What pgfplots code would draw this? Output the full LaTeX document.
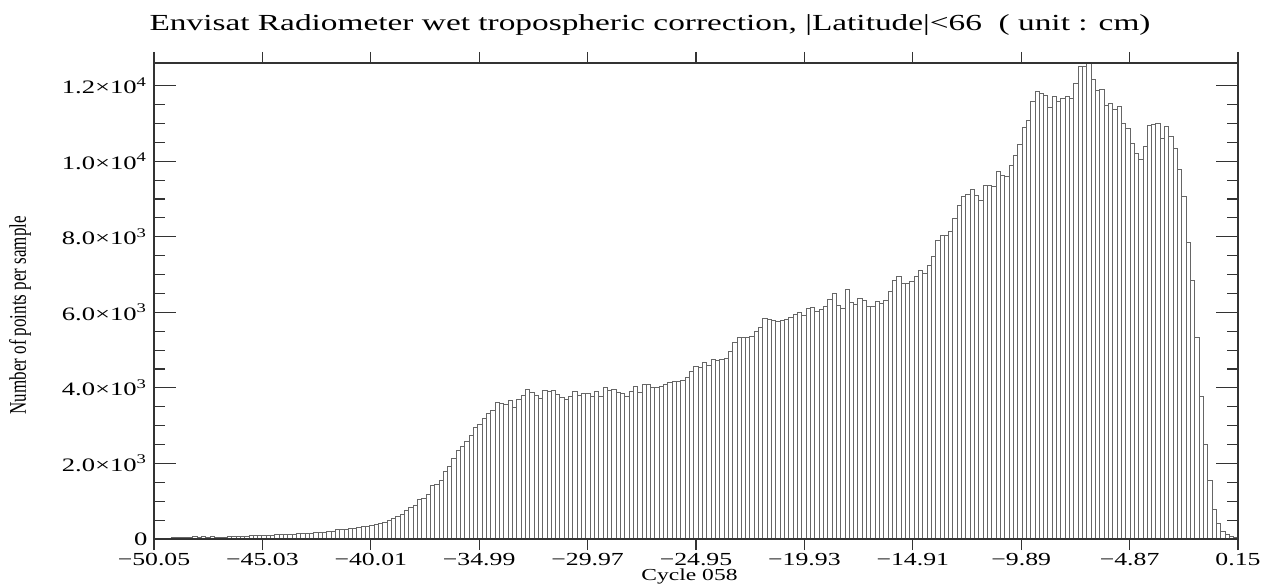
\documentclass[border=0pt]{standalone}
\usepackage{fontspec}
\setmainfont{Liberation Serif}
\usepackage{pgfplots}
\pgfplotsset{compat=1.18}
\usepackage{graphicx}
\begin{document}
\begin{tikzpicture}
\path[use as bounding box] (-77pt,-22pt) rectangle (553.5pt,269.5pt);
\begin{axis}[
  scale only axis, width=542pt, height=238pt,
  xmin=-50.05, xmax=0.15, ymin=0, ymax=12600,
  scaled ticks=false,
  axis line style={draw=black!80, line width=0.6pt},
  tick style={draw=black!80, line width=0.6pt},
  xtick={-50.05,-45.03,-40.01,-34.99,-29.97,-24.95,-19.93,-14.91,-9.89,-4.87,0.15},
  xticklabels={−50.05,−45.03,−40.01,−34.99,−29.97,−24.95,−19.93,−14.91,−9.89,−4.87,0.15},
  x tick style={draw=none},
  xticklabel style={font=\fontsize{9.2}{11}\selectfont, anchor=base, yshift=-13pt, xscale=1.4},
  ytick={0,2000,4000,6000,8000,10000,12000},
  yticklabels={0,2.0×10\textsuperscript{3},4.0×10\textsuperscript{3},6.0×10\textsuperscript{3},8.0×10\textsuperscript{3},1.0×10\textsuperscript{4},1.2×10\textsuperscript{4}},
  minor y tick num=3,
  tick align=inside,
  major tick length=11pt, minor tick length=5.5pt,
  yticklabel style={font=\fontsize{9.5}{11}\selectfont, anchor=east, inner sep=0pt, xshift=-3pt, xscale=1.4},
  title={Envisat Radiometer wet tropospheric correction, |Latitude|<66\ \ ( unit : cm)},
  title style={font=\fontsize{11.5}{14}\selectfont, at={(axis description cs:0.4576,1)}, anchor=base, yshift=10pt, xscale=1.45},
  xlabel={Cycle 058},
  xlabel style={font=\fontsize{8.4}{10}\selectfont, at={(axis description cs:0.494,0)}, anchor=base, yshift=-20.5pt, xscale=1.4},
  ylabel={\scalebox{1}[1.4]{Number of points per sample}},
  ylabel style={font=\fontsize{8.5}{10}\selectfont, at={(axis description cs:-0.1236,0.47)}, anchor=center, rotate=0},
]
\addplot[ybar interval, fill=white, draw=black!60, line width=0.5pt] table[x index=0, y index=1] {
x y
-50.05 20
-49.85 25
-49.65 22
-49.45 25
-49.25 30
-49.05 30
-48.85 35
-48.65 30
-48.45 35
-48.25 55
-48.05 50
-47.85 55
-47.65 45
-47.45 55
-47.25 45
-47.05 40
-46.85 50
-46.65 65
-46.45 75
-46.25 70
-46.05 65
-45.85 75
-45.65 80
-45.45 85
-45.25 90
-45.05 100
-44.85 95
-44.65 90
-44.45 110
-44.25 130
-44.05 120
-43.85 115
-43.65 130
-43.45 140
-43.25 150
-43.05 155
-42.85 150
-42.65 160
-42.45 175
-42.25 180
-42.05 200
-41.85 210
-41.65 240
-41.45 260
-41.25 250
-41.05 290
-40.85 280
-40.65 310
-40.45 320
-40.25 330
-40.05 350
-39.85 380
-39.65 410
-39.45 440
-39.25 480
-39.05 530
-38.85 600
-38.65 660
-38.45 755
-38.25 845
-38.05 895
-37.85 1055
-37.65 1080
-37.45 1190
-37.25 1410
-37.05 1430
-36.85 1540
-36.65 1790
-36.45 1910
-36.25 2140
-36.05 2340
-35.85 2450
-35.65 2580
-35.45 2730
-35.25 2940
-35.05 3030
-34.85 3200
-34.65 3310
-34.45 3410
-34.25 3620
-34.05 3590
-33.85 3550
-33.65 3660
-33.45 3480
-33.25 3700
-33.05 3790
-32.85 3970
-32.65 3880
-32.45 3810
-32.25 3720
-32.05 3920
-31.85 3910
-31.65 3940
-31.45 3820
-31.25 3750
-31.05 3680
-30.85 3780
-30.65 3910
-30.45 3810
-30.25 3840
-30.05 3860
-29.85 3780
-29.65 3900
-29.45 3780
-29.25 4010
-29.05 3920
-28.85 3970
-28.65 3880
-28.45 3840
-28.25 3780
-28.05 3910
-27.85 4040
-27.65 3880
-27.45 4080
-27.25 4080
-27.05 4020
-26.85 4000
-26.65 4040
-26.45 4090
-26.25 4130
-26.05 4180
-25.85 4170
-25.65 4200
-25.45 4270
-25.25 4440
-25.05 4570
-24.85 4550
-24.65 4670
-24.45 4590
-24.25 4750
-24.05 4730
-23.85 4750
-23.65 4770
-23.45 4970
-23.25 5190
-23.05 5340
-22.85 5330
-22.65 5330
-22.45 5360
-22.25 5500
-22.05 5590
-21.85 5830
-21.65 5810
-21.45 5790
-21.25 5760
-21.05 5790
-20.85 5810
-20.65 5860
-20.45 5950
-20.25 5990
-20.05 5910
-19.85 6100
-19.65 6120
-19.45 6010
-19.25 6070
-19.05 6165
-18.85 6340
-18.65 6490
-18.45 6170
-18.25 6100
-18.05 6610
-17.85 6260
-17.65 6210
-17.45 6360
-17.25 6320
-17.05 6150
-16.85 6150
-16.65 6280
-16.45 6240
-16.25 6310
-16.05 6540
-15.85 6850
-15.65 6960
-15.45 6770
-15.25 6770
-15.05 6810
-14.85 6960
-14.65 7100
-14.45 7030
-14.25 7230
-14.05 7470
-13.85 7910
-13.65 8030
-13.45 8030
-13.25 8130
-13.05 8490
-12.85 8820
-12.65 9060
-12.45 9120
-12.25 9260
-12.05 9080
-11.85 8950
-11.65 9370
-11.45 9350
-11.25 9320
-11.05 9720
-10.85 9610
-10.65 9590
-10.45 9880
-10.25 10160
-10.05 10430
-9.85 10880
-9.65 11090
-9.45 11570
-9.25 11840
-9.05 11790
-8.85 11730
-8.65 11420
-8.45 11700
-8.25 11590
-8.05 11660
-7.85 11720
-7.65 11660
-7.45 12060
-7.25 12520
-7.05 12500
-6.85 12590
-6.65 12150
-6.45 11880
-6.25 11910
-6.05 11480
-5.85 11530
-5.65 11380
-5.45 11440
-5.25 11000
-5.05 10870
-4.85 10470
-4.65 10200
-4.45 10050
-4.25 10400
-4.05 10940
-3.85 10960
-3.65 11000
-3.45 10600
-3.25 10930
-3.05 10650
-2.85 10340
-2.65 9790
-2.45 9060
-2.25 7840
-2.05 6850
-1.85 5340
-1.65 3780
-1.45 2490
-1.25 1540
-1.05 770
-0.85 400
-0.65 190
-0.45 110
-0.25 60
-0.05 35
0.15 0
};
\end{axis}
\begin{axis}[
  scale only axis, width=542pt, height=238pt,
  xmin=-50.05, xmax=0.15, ymin=0, ymax=12600,
  scaled ticks=false,
  axis line style={draw=black!80, line width=0.6pt},
  tick style={draw=black!80, line width=0.6pt},
  xtick={-50.05,-45.03,-40.01,-34.99,-29.97,-24.95,-19.93,-14.91,-9.89,-4.87,0.15},
  xticklabels={},
  ytick=\empty,
  tick align=outside,
  major tick length=5.5pt,
]
\end{axis}
\end{tikzpicture}
\end{document}
